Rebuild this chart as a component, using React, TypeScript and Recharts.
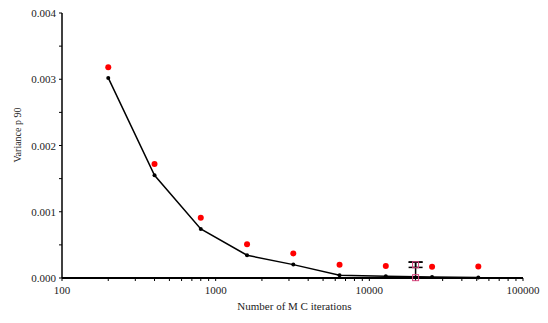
import React from "react";
import {
  ComposedChart,
  Line,
  Scatter,
  XAxis,
  YAxis,
  ErrorBar,
} from "recharts";

// MC iteration counts (x) and the two variance series
const iterations = [200, 400, 800, 1600, 3200, 6400, 12800, 25600, 51200];
const meanVariance = [0.00302, 0.00155, 0.00074, 0.000343, 0.000202, 0.00004, 0.000025, 0.000015, 0.000008];
const refVariance = [0.00318, 0.00172, 0.00091, 0.00051, 0.00037, 0.0002, 0.00018, 0.00017, 0.000175];

// single error-bar marker
const markerX = [20000, 20000];
const markerY = [0.000005, 0.0002];
const markerErr: [number, number][] = [
  [0.000005, 0.000235],
  [0.00004, 0.00004],
];

const xTicks = [
  100, 200, 300, 400, 500, 600, 700, 800, 900,
  1000, 2000, 3000, 4000, 5000, 6000, 7000, 8000, 9000,
  10000, 20000, 30000, 40000, 50000, 60000, 70000, 80000, 90000,
  100000,
];
const yTicks = [0, 0.0005, 0.001, 0.0015, 0.002, 0.0025, 0.003, 0.0035, 0.004];
const majorX = [100, 1000, 10000, 100000];

const FONT = "'Liberation Serif', 'Times New Roman', serif";

const lineData = iterations.map((x, i) => ({ x, y: meanVariance[i] }));
const refData = iterations.map((x, i) => ({ x, y: refVariance[i] }));
const markerData = markerX.map((x, i) => ({ x, y: markerY[i], err: markerErr[i] }));

const XTick = (props: any) => {
  const { x, y, payload } = props;
  if (!majorX.includes(payload.value)) return null;
  return (
    <text x={x} y={y + 11} textAnchor="middle" fontSize={11} fontFamily={FONT} fill="#222">
      {payload.value}
    </text>
  );
};

const YTick = (props: any) => {
  const { x, y, payload } = props;
  const v = payload.value;
  if (Math.abs(v * 1000 - Math.round(v * 1000)) > 1e-9) return null;
  return (
    <text x={x - 1} y={y + 4} textAnchor="end" fontSize={11} fontFamily={FONT} fill="#222">
      {v.toFixed(3)}
    </text>
  );
};

const RedDot = (props: any) => (
  <circle cx={props.cx} cy={props.cy} r={3} fill="#ff0000" />
);

const PinkSquare = (props: any) => (
  <rect x={props.cx - 3} y={props.cy - 3} width={6} height={6} fill="none" stroke="#d9467f" strokeWidth={1} />
);

export default function App() {
  return (
    <div style={{ position: "absolute", left: 0, top: 0, background: "#fff" }}>
      <ComposedChart
        width={548}
        height={323}
        margin={{ top: 13, right: 25, left: 0, bottom: 0 }}
      >
        <XAxis
          dataKey="x"
          type="number"
          scale="log"
          domain={[100, 100000]}
          ticks={xTicks}
          tick={<XTick />}
          tickSize={3}
          interval={0}
          allowDataOverflow
          height={45}
          axisLine={{ stroke: "#000", strokeWidth: 2 }}
          tickLine={{ stroke: "#000" }}
          label={{
            value: "Number of M C iterations",
            position: "insideBottom",
            offset: 13,
            dx: 2,
            fontSize: 11,
            fontFamily: FONT,
            fill: "#222",
          }}
        />
        <YAxis
          type="number"
          domain={[0, 0.004]}
          ticks={yTicks}
          tick={<YTick />}
          tickSize={3}
          interval={0}
          width={62}
          axisLine={{ stroke: "#000", strokeWidth: 1.5 }}
          tickLine={{ stroke: "#000" }}
          label={{
            value: "Variance p 90",
            angle: -90,
            position: "insideLeft",
            offset: 17,
            dy: 17,
            fontSize: 10,
            fontFamily: FONT,
            fill: "#222",
          }}
        />
        <Line
          data={lineData}
          dataKey="y"
          stroke="#000"
          strokeWidth={1.5}
          dot={{ r: 2, fill: "#000", stroke: "#000", strokeWidth: 0 }}
          isAnimationActive={false}
        />
        <Scatter data={refData} dataKey="y" shape={<RedDot />} isAnimationActive={false} />
        <Scatter data={markerData} dataKey="y" shape={<PinkSquare />} isAnimationActive={false}>
          <ErrorBar dataKey="err" direction="y" width={7} stroke="#000" strokeWidth={1.5} isAnimationActive={false} />
        </Scatter>
      </ComposedChart>
    </div>
  );
}
